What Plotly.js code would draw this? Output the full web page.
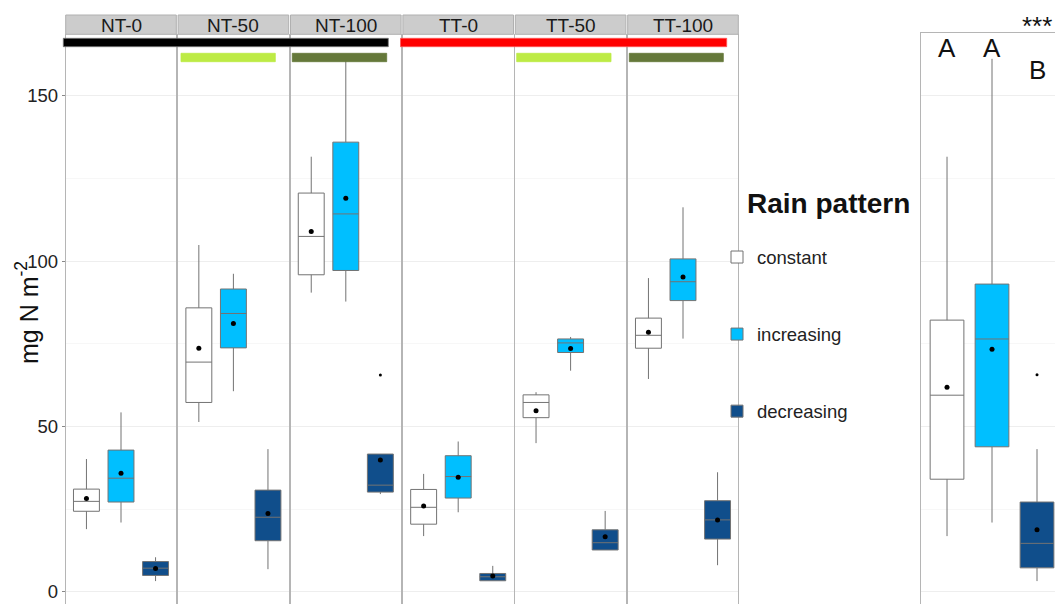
<!DOCTYPE html>
<html><head><meta charset="utf-8">
<script src="https://cdn.plot.ly/plotly-3.0.1.min.js"></script>
<style>html,body{margin:0;padding:0;background:#fff}#chart{width:1055px;height:604px}</style>
</head><body><div id="chart"></div>
<script>
// ---- data (panels: NT-0, NT-50, NT-100, TT-0, TT-50, TT-100, pooled) ----
const panelLabels = ['NT-0','NT-50','NT-100','TT-0','TT-50','TT-100'];
const patterns = ['constant','increasing','decreasing'];

const constantLow  = [19.0, 51.4, 90.5, 16.9, 45.0, 64.4, 16.9];
const constantQ1   = [24.4, 57.3, 95.9, 20.5, 52.7, 73.7, 34.1];
const constantMed  = [27.4, 69.5, 107.5, 25.6, 57.3, 77.6, 59.5];
const constantQ3   = [31.1, 85.9, 120.6, 31.0, 59.6, 82.8, 82.2];
const constantHigh = [40.2, 104.9, 131.6, 35.7, 60.4, 94.9, 131.6];
const constantMean = [28.3, 73.7, 109.0, 26.0, 54.8, 78.5, 61.9];

const increasingLow  = [21.0, 60.7, 87.8, 24.1, 66.9, 76.6, 21.0];
const increasingQ1   = [27.2, 73.8, 97.2, 28.4, 72.4, 88.1, 43.9];
const increasingMed  = [34.4, 84.2, 114.3, 34.9, 75.3, 93.8, 76.5];
const increasingQ3   = [42.9, 91.6, 136.0, 41.2, 76.5, 100.7, 93.1];
const increasingHigh = [54.3, 96.2, 161.2, 45.5, 77.1, 116.3, 161.2];
const increasingMean = [35.9, 81.2, 119.0, 34.7, 73.6, 95.2, 73.4];

const decreasingLow  = [3.3, 6.9, 29.6, 3.4, 12.7, 8.1, 3.3];
const decreasingQ1   = [5.0, 15.5, 30.2, 3.4, 12.7, 16.0, 7.3];
const decreasingMed  = [7.2, 22.6, 32.3, 4.6, 14.9, 21.8, 14.7];
const decreasingQ3   = [9.2, 30.8, 41.7, 5.6, 18.8, 27.6, 27.2];
const decreasingHigh = [10.5, 43.2, 41.7, 7.9, 24.5, 36.2, 43.2];
const decreasingMean = [7.1, 23.7, 39.9, 4.8, 16.7, 21.8, 18.8];

const outlierPanel = [2, 6];          // NT-100, pooled
const outlierValue = [65.6, 65.7];    // decreasing pattern outliers

const pooledLetters = ['A','A','B'];

// ---- styling ----
const fills = ['#ffffff','#00bfff','#104e8b'];
const W = 1055, H = 604;
const FONT = 'Liberation Sans, Arial, sans-serif';
const px = v => v / W;
const py = v => (H - v) / H;

const stats = [
  [constantLow, constantQ1, constantMed, constantQ3, constantHigh, constantMean],
  [increasingLow, increasingQ1, increasingMed, increasingQ3, increasingHigh, increasingMean],
  [decreasingLow, decreasingQ1, decreasingMed, decreasingQ3, decreasingHigh, decreasingMean]
];

const traces = [];
const nPanels = 7;
const axName = p => (p === 0 ? '' : String(p + 1));

for (let p = 0; p < nPanels; p++) {
  const xa = 'x' + axName(p), ya = 'y' + axName(p);
  for (let k = 0; k < 3; k++) {
    const s = stats[k];
    traces.push({
      type: 'box', orientation: 'v',
      x: [k + 1],
      lowerfence: [s[0][p]], q1: [s[1][p]], median: [s[2][p]], q3: [s[3][p]], upperfence: [s[4][p]],
      width: 0.75, whiskerwidth: 0,
      fillcolor: fills[k],
      line: { color: '#737373', width: 1 },
      name: patterns[k], legendgroup: patterns[k], showlegend: p === 0,
      xaxis: xa, yaxis: ya, hoverinfo: 'y'
    });
  }
  traces.push({
    type: 'scatter', mode: 'markers',
    x: [1, 2, 3], y: [constantMean[p], increasingMean[p], decreasingMean[p]],
    marker: { color: '#000', size: 5 },
    showlegend: false, xaxis: xa, yaxis: ya, hoverinfo: 'y'
  });
}
outlierPanel.forEach((p, i) => {
  traces.push({
    type: 'scatter', mode: 'markers',
    x: [3], y: [outlierValue[i]],
    marker: { color: '#000', size: 3 },
    showlegend: false, xaxis: 'x' + axName(p), yaxis: 'y' + axName(p), hoverinfo: 'y'
  });
});

const layout = {
  width: W, height: H,
  margin: { l: 0, r: 0, t: 0, b: 0 },
  paper_bgcolor: '#fff', plot_bgcolor: '#fff',
  font: { family: FONT, color: '#222' },
  boxmode: 'overlay',
  showlegend: true,
  legend: {
    x: px(717), y: py(238.5), xanchor: 'left', yanchor: 'top',
    font: { size: 18.5, family: FONT, color: '#222' },
    tracegroupgap: 50, traceorder: 'grouped',
    bgcolor: 'rgba(0,0,0,0)'
  },
  shapes: [], annotations: []
};

const stripTop = 15, panelTop = 34.3;
for (let p = 0; p < nPanels; p++) {
  const n = axName(p);
  const pooled = p === 6;
  const left = pooled ? 920.7 : 65.7 + p * 112.4;
  const right = pooled ? W : left + 110.6;
  const topPx = pooled ? 32.7 : panelTop;
  const yTop = pooled ? 169.1 : 168.6;
  layout['xaxis' + n] = {
    domain: [px(left), px(right)],
    range: pooled ? [0.415, 3.4] : [0.4, 3.6],
    anchor: 'y' + n,
    showticklabels: false, ticks: '', showgrid: false, zeroline: false,
    showline: pooled, side: 'top', mirror: false, linecolor: '#b5b5b5', linewidth: 1,
    fixedrange: true
  };
  layout['yaxis' + n] = {
    domain: [0, py(topPx)],
    range: [-3.63, yTop],
    anchor: 'x' + n,
    tick0: 0, dtick: 50,
    showgrid: true, gridcolor: '#eeeeee', gridwidth: 1,
    minor: { dtick: 25, showgrid: true, gridcolor: '#f7f7f7', ticks: '' },
    zeroline: false,
    showline: true, mirror: !pooled, linecolor: '#b5b5b5', linewidth: 1,
    showticklabels: p === 0,
    ticks: p === 0 ? 'outside' : '', ticklen: 3, tickcolor: '#888',
    tickfont: { size: 18.5, family: FONT, color: '#222' },
    automargin: false, fixedrange: true
  };
  if (!pooled) {
    layout.shapes.push({
      type: 'rect', xref: 'x' + n + ' domain', yref: 'paper',
      x0: 0, x1: 1, y0: py(panelTop), y1: py(stripTop),
      fillcolor: '#cccccc', line: { color: '#b0b0b0', width: 1 }
    });
    layout.annotations.push({
      text: panelLabels[p], xref: 'x' + n + ' domain', yref: 'paper',
      x: 0.5, y: py((stripTop + panelTop) / 2 + 0.5), xanchor: 'center', yanchor: 'middle',
      showarrow: false,
      font: { size: 19, family: FONT, color: '#1a1a1a' }
    });
  } else {
    pooledLetters.forEach((t, i) => {
      layout.annotations.push({
        text: t, xref: 'x7', yref: 'y7', x: i + 1, y: i < 2 ? 164.5 : 157.8,
        xanchor: 'center', yanchor: 'middle',
        showarrow: false, font: { size: 26, family: FONT, color: '#111' }
      });
    });
    layout.annotations.push({
      text: '***', xref: 'x7', yref: 'paper', x: 3, y: py(26),
      xanchor: 'center', yanchor: 'middle',
      showarrow: false, font: { size: 26, family: FONT, color: '#111' }
    });
  }
}

// treatment indicator bars
const bars = [
  [63.3, 388.3, 38.3, 46.7, '#000000', '#777777'],
  [400.5, 726.7, 38.3, 46.7, '#ff0000', '#ff5555'],
  [181, 275.3, 53.3, 61.7, '#bdeb45', '#bdeb45'],
  [292.3, 386.7, 53.3, 61.7, '#65783a', '#65783a'],
  [516.7, 611, 53.3, 61.7, '#bdeb45', '#bdeb45'],
  [629.3, 723.3, 53.3, 61.7, '#65783a', '#65783a']
];
bars.forEach(b => layout.shapes.push({
  type: 'rect', xref: 'paper', yref: 'paper',
  x0: px(b[0]), x1: px(b[1]), y0: py(b[3]), y1: py(b[2]),
  fillcolor: b[4], line: { color: b[5], width: 0.8 }
}));

layout.annotations.push({
  text: 'mg N m<sup>-2</sup>', xref: 'paper', yref: 'paper',
  x: px(27), y: py(313), xanchor: 'center', yanchor: 'middle',
  textangle: -90, showarrow: false,
  font: { size: 25, family: FONT, color: '#111' }
});
layout.annotations.push({
  text: '<b>Rain pattern</b>', xref: 'paper', yref: 'paper',
  x: px(745), y: py(204), xanchor: 'left', yanchor: 'middle', showarrow: false,
  font: { size: 28, family: FONT, color: '#111' }
});

Plotly.newPlot('chart', traces, layout, { displayModeBar: false, staticPlot: true });
</script>
</body></html>
